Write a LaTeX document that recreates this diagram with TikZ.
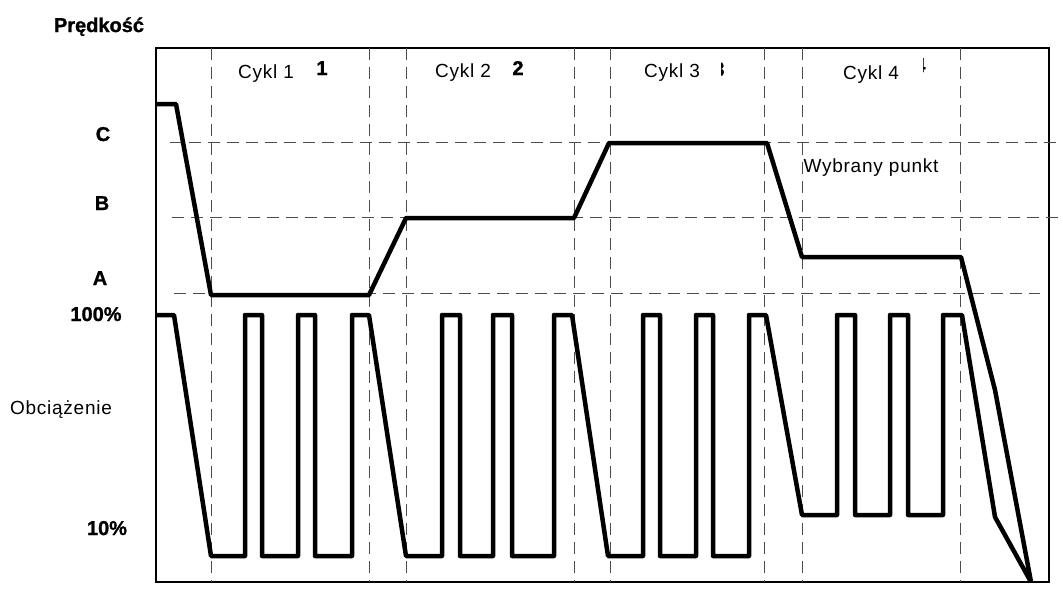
\documentclass[tikz,border=0pt]{standalone}
\usepackage{fontspec}
\setmainfont{Liberation Sans}
\newfontfamily\lblfont[LetterSpace=4]{Liberation Sans}
\newfontfamily\heavyfont[FakeBold=1.2]{Liberation Sans Bold}
\usepackage{xcolor}
\usepackage{tikz}
\usetikzlibrary{positioning,calc}

\tikzset{
    frame/.style={line width=1.2pt},
    grid/.style={black!70, line width=1pt, dash pattern=on 12pt off 7pt},
    curve/.style={line width=4.5pt, line join=round},
    boldlabel/.style={inner sep=0pt, anchor=base, font=\heavyfont\fontsize{20}{22}\selectfont},
    textlabel/.style={inner sep=0pt, anchor=base, font=\lblfont\fontsize{19}{22}\selectfont}
}

\begin{document}
\begin{tikzpicture}[x=1pt, y=-1pt]
    \useasboundingbox (0,0) rectangle (1063,590);

    % Frame of the plot
    \draw[frame] (156,48) rectangle (1049,582);

    % Cycle borders
    \foreach \x in {211,369,406,574,610,764,802,960} {
        \draw[grid] (\x,48) -- (\x,582);
    }

    % Speed levels C, B, A
    \draw[grid] (170,142) -- (1060,142);
    \draw[grid] (172,217) -- (1060,217);
    \draw[grid] (174,293) -- (1040,293);

    % Speed
    \draw[curve] (156,104) -- (176,104) -- (211,295) -- (369,295) -- (406,218)
        -- (574,218) -- (609,143) -- (767,143) -- (802,257) -- (961,257)
        -- (995,390) -- (1031,582);

    % Load
    \draw[curve] (156,315) -- (174,315) -- (211,556)
        -- (245,556) -- (245,315) -- (262,315) -- (262,556) -- (298,556) -- (298,315)
        -- (315,315) -- (315,556) -- (352,556) -- (352,315) -- (369,315)
        -- (406,556) -- (442,556) -- (442,315) -- (460,315) -- (460,556) -- (493,556)
        -- (493,315) -- (512,315) -- (512,556) -- (554,556) -- (554,315) -- (572,315)
        -- (608,556) -- (643,556) -- (643,315) -- (660,315) -- (660,556) -- (696,556)
        -- (696,315) -- (713,315) -- (713,556) -- (749,556) -- (749,315) -- (766,315)
        -- (802,515) -- (837,515) -- (837,315) -- (855,315) -- (855,515) -- (890,515)
        -- (890,315) -- (908,315) -- (908,515) -- (943,515) -- (943,315) -- (962,315)
        -- (995,517) -- (1031,582);

    % Axis labels
    \node[boldlabel] (title) at (99,32) {Prędkość};
    \node[boldlabel] (lblC) at (103,141) {C};
    \node[boldlabel] (lblB) at (102,210) {B};
    \node[boldlabel] (lblA) at (100,285) {A};
    \node[boldlabel] (lblFull) at (96,321) {100\%};
    \node[boldlabel] (lblLow) at (107,535) {10\%};
    \node[textlabel] (lblLoad) at (61,414) {Obciążenie};

    % Cycles
    \node[textlabel] (cyc1) at (266,78) {Cykl 1};
    \node[textlabel] (cyc2) at (463,77) {Cykl 2};
    \node[textlabel] (cyc3) at (672,77) {Cykl 3};
    \node[textlabel] (cyc4) at (871,79) {Cykl 4};
    \node[boldlabel] (num1) at (322,75) {1};
    \node[boldlabel] (num2) at (518,75) {2};
    \begin{scope}
        \clip (721,55) rectangle (731,80);
        \node[boldlabel] (num3) at (719,76) {3};
    \end{scope}
    \begin{scope}
        \clip (923,56) rectangle (929,73);
        \node[boldlabel] (num4) at (920,72) {4};
    \end{scope}

    \node[textlabel] (point) at (871,172) {Wybrany punkt};
\end{tikzpicture}
\end{document}
